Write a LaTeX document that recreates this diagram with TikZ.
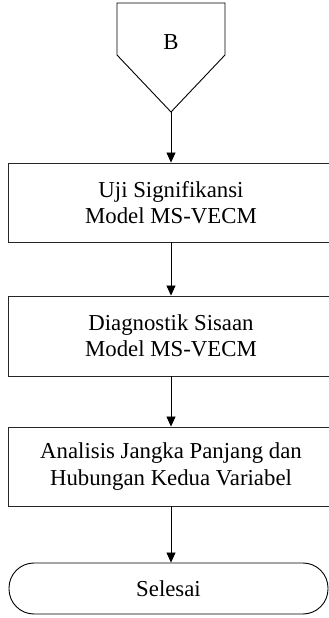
\documentclass[tikz,border=0pt]{standalone}
\usepackage{fontspec}
\setmainfont{Liberation Serif}
\usetikzlibrary{arrows.meta}
\begin{document}
\begin{tikzpicture}[x=1pt,y=1pt,
  every node/.style={font=\fontsize{22.8}{26.5}\selectfont, align=center, inner sep=0pt},
  procbox/.style={draw=black!85, line width=0.9pt, minimum width=326pt, minimum height=79pt},
  termbox/.style={draw=black, line width=0.9pt, minimum width=319pt, minimum height=51pt, rounded corners=25pt},
  flow/.style={draw=black, line width=0.8pt, -{Triangle[length=10pt,width=9pt]}}]
\useasboundingbox (0,0) rectangle (329,618);
\clip (0,0) rectangle (329,618);
\fill[white] (0,0) rectangle (329,618);
% off-page connector
\draw[line width=0.9pt] (117,615) -- (225,615) -- (225,563) -- (171,506) -- (117,563) -- cycle;
\coordinate (Btip) at (171,506);
\node (B) at (171,576) {B};
\node[procbox] (p1) at (171,415.5) {Uji Signifikansi\\Model MS-VECM};
\node[procbox, minimum height=80pt] (p2) at (171,282) {Diagnostik Sisaan\\Model MS-VECM};
\node[procbox] (p3) at (171,151.5) {Analisis Jangka Panjang dan\\Hubungan Kedua Variabel};
\node[termbox] (t) at (168.5,29.5) {Selesai};
\draw[flow] (Btip) -- (p1.north);
\draw[flow] (p1.south) -- (p2.north);
\draw[flow] (p2.south) -- (p3.north);
\draw[flow] (p3.south) -- (p3.south |- t.north);
\end{tikzpicture}
\end{document}
